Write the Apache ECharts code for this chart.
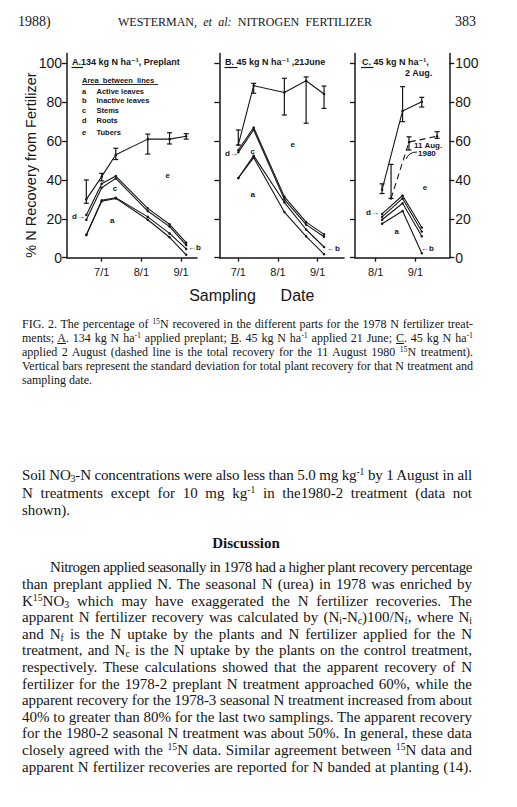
<!DOCTYPE html>
<html><head><meta charset="utf-8">
<script src="https://cdn.jsdelivr.net/npm/echarts@6/dist/echarts.min.js"></script>
<style>
html,body{margin:0;padding:0;background:#fff;width:517px;height:807px;overflow:hidden}
#chart{position:absolute;left:0;top:0;width:517px;height:807px}
.t{position:absolute;font-family:"Liberation Serif","DejaVu Serif",serif;color:#151515;white-space:nowrap;line-height:1}
.t sup{font-size:0.65em;line-height:0;vertical-align:0.55em}
.t sub{font-size:0.65em;line-height:0;vertical-align:-0.25em}
</style></head><body>
<div id="chart"></div>
<script>
// ---------- DATA ----------
const tickDatesAB = ['7/1', '8/1', '9/1'];
const tickDatesC = ['8/1', '9/1'];
const yTicks = [0, 20, 40, 60, 80, 100];

// Panel A: 134 kg N/ha preplant (cumulative line heights, % recovery)
const datesA = ['6/19', '7/1', '7/12', '8/6', '8/23', '9/5'];
const aTopA = [11.7, 29, 30.5, 19.5, 10.5, 1.5];
const bTopA = [11.7, 29.5, 30.8, 21, 12.5, 4.5];
const cTopA = [19.5, 36, 40.8, 24, 16, 6.5];
const dTopA = [22, 38, 42, 25.4, 17.2, 7.7];
const totalA = [30, 41.7, 53, 61, 61, 62.5];
const sdLowA = [28, 39.5, 50.5, 53.3, 58.5, 61];
const sdHighA = [40, 43.4, 56.3, 63.6, 64.3, 63.8];

// Panel B: 45 kg N/ha, 21 June
const datesB = ['7/1', '7/13', '8/6', '8/23', '9/6'];
const aTopB = [41, 51.5, 23.5, 11, 1.8];
const bTopB = [41, 52.5, 28.5, 14.5, 5.5];
const cTopB = [54.2, 65.8, 30, 17, 10.8];
const dTopB = [55.4, 67, 31.4, 18.3, 12];
const totalB = [58, 88.5, 85, 91, 84.2];
const sdLowB = [58, 84.6, 73.4, 69.2, 76.8];
const sdHighB = [65.7, 89.7, 92.3, 93, 88.3];

// Panel C: 45 kg N/ha, 2 Aug
const datesC = ['8/6', '8/22', '9/6'];
const aTopC = [17.5, 24, 2.3];
const bTopC = [19.5, 28, 11];
const cTopC = [21, 30.5, 13.5];
const dTopC = [22.5, 32, 15.5];
const totalC = [35, 75.5, 80.2];
const sdLowC = [33, 70, 77.5];
const sdHighC = [38, 88, 82.5];

// Panel C dashed: 11 Aug 1980 treatment total
const dates1980 = ['8/13', '8/27', '9/18'];
const total1980 = [30.5, 59.5, 62.5];
const sdLow1980 = [30.5, 55.4, 61.4];
const sdHigh1980 = [48, 62.2, 64.8];

// ---------- HELPERS ----------
const monthOffset = {6: -1, 7: 29, 8: 60, 9: 91};
const dateToDay = s => { const p = s.split('/').map(Number); return monthOffset[p[0]] + p[1]; };
const INK = '#161616';
const SANS = '"Liberation Sans","DejaVu Sans",sans-serif';

function lineSeries(dates, vals, gi, dashed) {
  return {
    type: 'line', xAxisIndex: gi, yAxisIndex: gi, silent: true, animation: false,
    data: dates.map((d, i) => [dateToDay(d), vals[i]]),
    symbol: 'circle', symbolSize: 2.5, showSymbol: true,
    lineStyle: {color: INK, width: 1.1, type: dashed ? [6, 4] : 'solid'},
    itemStyle: {color: INK}
  };
}
function errSeries(dates, lo, hi, gi) {
  return {
    type: 'custom', xAxisIndex: gi, yAxisIndex: gi, silent: true, animation: false,
    data: dates.map((d, i) => [dateToDay(d), lo[i], hi[i]]),
    renderItem: (params, api) => {
      const x = api.value(0);
      const p1 = api.coord([x, api.value(1)]), p2 = api.coord([x, api.value(2)]);
      const w = 2.5, st = {stroke: INK, lineWidth: 1.2};
      return {type: 'group', children: [
        {type: 'line', shape: {x1: p1[0], y1: p1[1], x2: p2[0], y2: p2[1]}, style: st},
        {type: 'line', shape: {x1: p1[0] - w, y1: p1[1], x2: p1[0] + w, y2: p1[1]}, style: st},
        {type: 'line', shape: {x1: p2[0] - w, y1: p2[1], x2: p2[0] + w, y2: p2[1]}, style: st}
      ]};
    }
  };
}
function xAx(gi, min, max, ticks) {
  const vals = ticks.map(dateToDay);
  return {
    type: 'value', gridIndex: gi, min: min, max: max,
    axisLine: {show: true, onZero: false, lineStyle: {color: INK, width: 1.5}},
    splitLine: {show: false},
    axisTick: {show: true, customValues: vals, length: 4, lineStyle: {color: INK, width: 1.3}},
    axisLabel: {show: true, customValues: vals, formatter: v => ticks[vals.indexOf(Math.round(v))] || '',
      fontSize: 11, color: INK, margin: 9, fontFamily: SANS}
  };
}
function yAx(gi, showLabels, position) {
  return {
    type: 'value', gridIndex: gi, min: 0, max: 105, position: position || 'left',
    axisLine: {show: true, onZero: false, lineStyle: {color: INK, width: 1.5}},
    splitLine: {show: false},
    axisTick: {show: true, customValues: yTicks, length: 5, lineStyle: {color: INK, width: 1.3}},
    axisLabel: {show: showLabels, customValues: yTicks, fontSize: 14, color: INK,
      margin: position === 'right' ? 6 : 5, fontFamily: SANS}
  };
}
function txt(text, x, y, size, opt) {
  opt = opt || {};
  const align = opt.align || 'left';
  return {type: 'text', x: x, y: y, rotation: opt.rotation || 0, silent: true,
    style: {text: text, fill: INK, fontSize: size, fontFamily: SANS, fontWeight: opt.bold ? 'bold' : 'normal',
      align: align, textAlign: align, verticalAlign: 'middle', textVerticalAlign: 'middle'}};
}
function seg(x1, y1, x2, y2, w) {
  return {type: 'line', silent: true, shape: {x1: x1, y1: y1, x2: x2, y2: y2}, style: {stroke: INK, lineWidth: w || 1.1}};
}

// ---------- CHART ----------
const chart = echarts.init(document.getElementById('chart'), null, {renderer: 'svg'});
const gTop = 53.6, gH = 204.1;
const option = {
  animation: false,
  grid: [
    {left: 67, top: gTop, width: 130, height: gH, containLabel: false, outerBoundsMode: 'none'},
    {left: 219.3, top: gTop, width: 124.7, height: gH, containLabel: false, outerBoundsMode: 'none'},
    {left: 355, top: gTop, width: 94.3, height: gH, containLabel: false, outerBoundsMode: 'none'}
  ],
  xAxis: [
    xAx(0, 2.9, 104.45, tickDatesAB),
    xAx(1, 15.16, 112.6, tickDatesAB),
    xAx(2, 44.83, 118.5, tickDatesC)
  ],
  yAxis: [
    yAx(0, true, 'left'),
    yAx(1, false, 'left'),
    yAx(2, false, 'left'),
    yAx(2, true, 'right')
  ],
  series: [
    lineSeries(datesA, aTopA, 0), lineSeries(datesA, bTopA, 0), lineSeries(datesA, cTopA, 0),
    lineSeries(datesA, dTopA, 0), lineSeries(datesA, totalA, 0), errSeries(datesA, sdLowA, sdHighA, 0),
    lineSeries(datesB, aTopB, 1), lineSeries(datesB, bTopB, 1), lineSeries(datesB, cTopB, 1),
    lineSeries(datesB, dTopB, 1), lineSeries(datesB, totalB, 1), errSeries(datesB, sdLowB, sdHighB, 1),
    lineSeries(datesC, aTopC, 2), lineSeries(datesC, bTopC, 2), lineSeries(datesC, cTopC, 2),
    lineSeries(datesC, dTopC, 2), lineSeries(datesC, totalC, 2), errSeries(datesC, sdLowC, sdHighC, 2),
    lineSeries(dates1980, total1980, 2, true), errSeries(dates1980, sdLow1980, sdHigh1980, 2)
  ],
  graphic: [
    txt('% N Recovery from Fertilizer', 31, 165, 14.5, {align: 'center', rotation: Math.PI / 2}),
    txt('Sampling', 222.5, 295, 16, {align: 'center'}),
    txt('Date', 297.5, 295, 16, {align: 'center'}),
    // Panel A title + legend
    txt('A.134 kg N ha\u207B\u00B9, Preplant', 72, 62, 9, {bold: true}),
    seg(71.5, 67.5, 83, 67.5, 1.2),
    txt('Area  between  lines', 82, 80, 7.5, {bold: true}),
    seg(82, 84.5, 158, 84.5, 0.9),
    txt('a', 82, 91, 7.5, {bold: true}), txt('Active leaves', 96.5, 91, 7.5, {bold: true}),
    txt('b', 82, 100.5, 7.5, {bold: true}), txt('Inactive leaves', 96.5, 100.5, 7.5, {bold: true}),
    txt('c', 82, 110, 7.5, {bold: true}), txt('Stems', 96.5, 110, 7.5, {bold: true}),
    txt('d', 82, 120, 7.5, {bold: true}), txt('Roots', 96.5, 120, 7.5, {bold: true}),
    txt('e', 82, 132, 7.5, {bold: true}), txt('Tubers', 96.5, 132, 7.5, {bold: true}),
    txt('e', 167.7, 175.7, 8, {bold: true, align: 'center'}),
    txt('c', 115, 188.3, 8, {bold: true, align: 'center'}),
    txt('a', 112.3, 220.7, 8, {bold: true, align: 'center'}),
    txt('d\u2192', 72, 216.5, 8, {bold: true}),
    txt('\u2190b', 188, 247.5, 8, {bold: true}),
    // Panel B
    txt('B. 45 kg N ha\u207B\u00B9 ,21June', 225, 62, 9, {bold: true}),
    seg(224.5, 67.5, 237.5, 67.5, 1.2),
    txt('e', 292.7, 144, 8, {bold: true, align: 'center'}),
    txt('c', 252.7, 151, 8, {bold: true, align: 'center'}),
    txt('a', 252.7, 194, 8, {bold: true, align: 'center'}),
    txt('d\u2192', 225, 153.3, 8, {bold: true}),
    txt('\u2190b', 327, 248.3, 8, {bold: true}),
    // Panel C
    txt('C. 45 kg N ha\u207B\u00B9,', 362, 62, 9, {bold: true}),
    seg(361, 67.5, 373.5, 67.5, 1.2),
    txt('2 Aug.', 405, 73, 9, {bold: true}),
    txt('e', 425, 187.3, 8, {bold: true, align: 'center'}),
    txt('a', 396.7, 231, 8, {bold: true, align: 'center'}),
    txt('d\u2192', 366, 212.7, 8, {bold: true}),
    txt('\u2190b', 421, 248.3, 8, {bold: true}),
    txt('11 Aug.', 414, 145, 8, {bold: true}),
    txt('1980', 418, 153.5, 8, {bold: true}),
    {type: 'bezierCurve', silent: true, shape: {x1: 417, y1: 152, cpx1: 409, cpy1: 152, x2: 406, y2: 159},
      style: {stroke: INK, lineWidth: 1, fill: 'none'}}
  ]
};
chart.setOption(option);

// ---------- PAGE TEXT ----------
function addLine(html, yc, left, right, size, opts) {
  opts = opts || {};
  const el = document.createElement('div');
  el.className = 't';
  el.innerHTML = html;
  el.style.fontSize = size + 'px';
  el.style.left = left + 'px';
  el.style.top = (yc - 0.58 * size) + 'px';
  if (opts.bold) el.style.fontWeight = 'bold';
  document.body.appendChild(el);
  if (right != null) {
    const w = el.getBoundingClientRect().width;
    const extra = right - left - w;
    const n = (el.textContent.match(/ /g) || []).length;
    if (extra >= 0) {
      if (n) el.style.wordSpacing = (extra / n) + 'px';
    } else {
      const chars = el.textContent.length;
      el.style.letterSpacing = (extra / chars) + 'px';
      const w2 = el.getBoundingClientRect().width;
      const extra2 = right - left - w2;
      if (n) el.style.wordSpacing = (extra2 / n) + 'px';
    }
  }
  if (opts.center != null) {
    const w = el.getBoundingClientRect().width;
    el.style.left = (opts.center - w / 2) + 'px';
  }
}
addLine('1988)', 23, 18, null, 14);
addLine('WESTERMAN, <i>et al:</i> NITROGEN FERTILIZER', 23, 118, 372, 12);
addLine('383', 23, 455, null, 14);

const capY = [325, 339, 353, 367, 381];
const capLines = [
  'FIG. 2. The percentage of <sup>15</sup>N recovered in the different parts for the 1978 N fertilizer treat-',
  'ments; <u>A</u>. 134 kg N ha<sup>-1</sup> applied preplant; <u>B</u>. 45 kg N ha<sup>-1</sup> applied 21 June; <u>C</u>. 45 kg N ha<sup>-1</sup>',
  'applied 2 August (dashed line is the total recovery for the 11 August 1980 <sup>15</sup>N treatment).',
  'Vertical bars represent the standard deviation for total plant recovery for that N treatment and',
  'sampling date.'
];
capLines.forEach((h, i) => addLine(h, capY[i], 22, i < 4 ? 473 : null, 12));

addLine('Soil NO<sub>3</sub>-N concentrations were also less than 5.0 mg kg<sup>-1</sup> by 1 August in all', 477, 22, 472, 15);
addLine('N treatments except for 10 mg kg<sup>-1</sup> in the1980-2 treatment (data not', 494.5, 22, 472, 15);
addLine('shown).', 512, 22, null, 15);
addLine('Discussion', 545, 210, null, 15, {bold: true, center: 246});

const bodyLines = [
  'Nitrogen applied seasonally in 1978 had a higher plant recovery percentage',
  'than preplant applied N. The seasonal N (urea) in 1978 was enriched by',
  'K<sup>15</sup>NO<sub>3</sub> which may have exaggerated the N fertilizer recoveries. The',
  'apparent N fertilizer recovery was calculated by (N<sub>i</sub>-N<sub>c</sub>)100/N<sub>f</sub>, where N<sub>i</sub>',
  'and N<sub>f</sub> is the N uptake by the plants and N fertilizer applied for the N',
  'treatment, and N<sub>c</sub> is the N uptake by the plants on the control treatment,',
  'respectively. These calculations showed that the apparent recovery of N',
  'fertilizer for the 1978-2 preplant N treatment approached 60%, while the',
  'apparent recovery for the 1978-3 seasonal N treatment increased from about',
  '40% to greater than 80% for the last two samplings. The apparent recovery',
  'for the 1980-2 seasonal N treatment was about 50%. In general, these data',
  'closely agreed with the <sup>15</sup>N data. Similar agreement between <sup>15</sup>N data and',
  'apparent N fertilizer recoveries are reported for N banded at planting (14).'
];
bodyLines.forEach((h, i) => addLine(h, 569 + i * 16.6, i === 0 ? 50 : 22, 472, 15));
</script>
</body></html>
